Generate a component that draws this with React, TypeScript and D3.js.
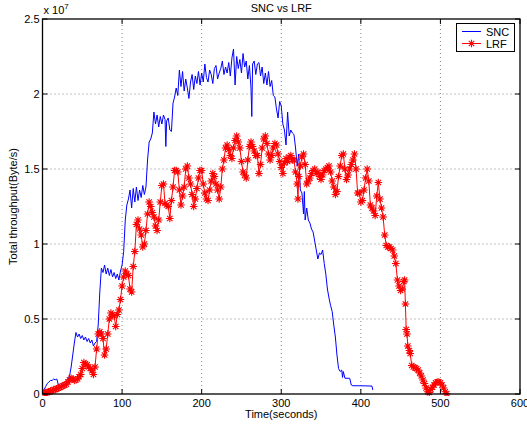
import React from "react";
import * as d3 from "d3";

// throughput values in units of 1e6 Byte/s
const sncTime = [0, 2, 4, 6, 8, 10, 12, 14, 16, 18, 20, 22, 24, 26, 28, 30, 32, 34, 36, 38, 40, 42, 44, 46, 48, 50, 52, 54, 56, 58, 60, 62, 64, 66, 68, 70, 72, 74, 76, 78, 80, 82, 84, 86, 88, 90, 92, 94, 96, 98, 100, 102, 104, 106, 108, 110, 112, 114, 116, 118, 120, 122, 124, 126, 128, 130, 132, 134, 136, 138, 140, 142, 144, 146, 148, 150, 152, 154, 155, 156, 158, 160, 162, 164, 166, 168, 170, 172, 174, 176, 178, 180, 182, 184, 186, 188, 190, 192, 194, 196, 198, 200, 202, 204, 206, 208, 210, 212, 214, 216, 218, 220, 222, 224, 226, 228, 230, 232, 234, 236, 238, 240, 242, 244, 246, 248, 250, 252, 254, 256, 258, 260, 262, 263, 264, 266, 268, 270, 272, 274, 276, 278, 280, 282, 284, 286, 288, 290, 292, 294, 296, 298, 300, 302, 304, 306, 308, 310, 312, 314, 316, 318, 320, 322, 324, 326, 328, 329, 330, 332, 334, 336, 338, 340, 342, 344, 346, 348, 350, 352, 354, 356, 358, 360, 362, 364, 366, 368, 370, 372, 374, 376, 377, 378, 380, 384, 386, 388, 390, 400, 414, 415];
const sncValue = [0.1, 0.3, 0.5, 0.7, 0.8, 0.9, 0.9, 1.0, 0.95, 1.0, 0.6, 0.5, 0.6, 0.7, 0.8, 0.9, 1.0, 1.2, 1.8, 2.6, 3.4, 4.1, 3.8, 4.0, 3.7, 3.9, 3.6, 3.8, 3.5, 3.7, 3.4, 3.6, 3.2, 3.4, 3.5, 4.6, 6.8, 8.4, 8.1, 8.6, 8.0, 8.4, 7.9, 8.3, 7.8, 8.1, 7.7, 8.0, 7.6, 8.2, 8.6, 9.5, 11.6, 12.6, 13.0, 13.6, 12.4, 13.7, 12.8, 13.8, 12.9, 13.6, 13.1, 13.9, 13.3, 13.8, 15.6, 16.8, 17.0, 17.4, 18.8, 18.0, 18.6, 17.8, 18.5, 18.0, 18.6, 18.3, 16.5, 18.2, 18.4, 17.6, 17.5, 19.4, 19.8, 20.4, 19.9, 21.6, 20.5, 21.5, 20.2, 21.0, 20.4, 19.7, 20.8, 21.3, 20.3, 21.2, 20.7, 21.5, 20.6, 21.4, 20.8, 22.0, 21.1, 20.8, 21.6, 21.3, 20.7, 21.7, 21.9, 21.0, 21.4, 21.7, 22.2, 21.3, 21.8, 21.4, 22.1, 21.2, 22.4, 23.0, 20.6, 22.5, 21.7, 22.3, 21.4, 22.7, 21.8, 22.2, 21.0, 21.9, 20.4, 18.5, 22.0, 22.2, 21.3, 22.0, 22.1, 21.2, 21.8, 20.7, 21.4, 20.6, 21.5, 20.5, 20.9, 19.9, 19.8, 19.0, 18.4, 19.5, 19.2, 18.0, 17.6, 16.6, 18.8, 17.2, 17.6, 17.4, 17.3, 16.4, 15.2, 16.0, 13.6, 13.4, 12.0, 13.5, 11.6, 12.4, 11.6, 11.4, 11.0, 10.8, 10.2, 9.6, 9.0, 9.4, 9.3, 9.6, 8.7, 8.0, 7.0, 6.4, 5.9, 5.5, 4.6, 3.8, 2.6, 1.7, 1.5, 1.6, 1.1, 1.5, 1.05, 1.05, 1.05, 0.6, 0.55, 0.55, 0.53, 0.27];

const lrfTime = [0, 2, 4, 6, 8, 10, 12, 14, 16, 18, 20, 22, 24, 26, 28, 30, 32, 34, 36, 38, 40, 42, 44, 46, 48, 50, 52, 54, 56, 58, 60, 62, 64, 66, 68, 70, 72, 74, 76, 78, 80, 82, 84, 86, 88, 90, 92, 94, 96, 98, 100, 102, 104, 106, 108, 110, 112, 114, 116, 118, 120, 122, 124, 126, 128, 130, 132, 134, 136, 138, 140, 142, 144, 146, 148, 150, 152, 154, 156, 158, 160, 162, 164, 166, 168, 170, 172, 174, 176, 178, 180, 182, 184, 186, 188, 190, 192, 194, 196, 198, 200, 202, 204, 206, 208, 210, 212, 214, 216, 218, 220, 222, 224, 226, 228, 230, 232, 234, 236, 238, 240, 242, 244, 246, 248, 250, 252, 254, 256, 258, 260, 262, 264, 266, 268, 270, 272, 274, 276, 278, 280, 282, 284, 286, 288, 290, 292, 294, 296, 298, 300, 302, 304, 306, 308, 310, 312, 314, 316, 318, 320, 321, 322, 324, 326, 328, 330, 332, 334, 336, 338, 340, 342, 344, 346, 348, 350, 352, 354, 356, 358, 360, 362, 364, 366, 368, 370, 372, 374, 376, 378, 380, 382, 384, 386, 388, 390, 392, 394, 396, 398, 400, 402, 404, 406, 408, 410, 412, 414, 416, 418, 420, 422, 424, 426, 428, 430, 432, 434, 436, 438, 440, 442, 444, 446, 448, 450, 452, 454, 455, 456, 457, 458, 459, 461, 462, 464, 466, 468, 470, 472, 474, 476, 478, 480, 482, 484, 486, 488, 490, 492, 494, 496, 498, 500, 502, 504, 506, 508];
const lrfValue = [0.05, 0.05, 0.1, 0.1, 0.15, 0.2, 0.2, 0.3, 0.3, 0.35, 0.4, 0.45, 0.5, 0.55, 0.6, 0.65, 0.8, 0.95, 1.05, 1.0, 0.9, 0.95, 1.0, 1.15, 1.3, 1.7, 2.1, 2.0, 1.95, 1.8, 1.7, 1.55, 1.3, 1.8, 3.0, 4.0, 4.15, 4.0, 3.7, 2.6, 3.0, 4.0, 5.0, 5.4, 5.3, 5.2, 4.5, 5.3, 5.6, 6.3, 7.2, 7.8, 8.2, 8.0, 7.9, 7.0, 6.8, 8.5, 9.5, 11.3, 11.6, 11.0, 10.6, 9.8, 10.0, 10.9, 12.0, 12.8, 12.5, 12.1, 11.8, 11.2, 10.9, 11.6, 12.8, 13.9, 14.0, 12.7, 12.6, 12.5, 11.7, 12.9, 13.8, 14.9, 14.9, 14.8, 13.6, 12.6, 13.2, 13.8, 15.0, 15.2, 14.4, 14.0, 13.3, 12.5, 13.0, 13.7, 14.4, 14.9, 14.9, 14.0, 13.4, 13.0, 12.9, 13.6, 14.2, 14.7, 14.5, 14.0, 13.6, 13.0, 13.8, 15.0, 15.6, 16.4, 16.6, 16.3, 15.9, 15.7, 16.4, 16.9, 17.2, 16.8, 16.4, 15.5, 14.8, 14.6, 14.4, 15.6, 16.5, 16.8, 16.5, 16.2, 15.9, 15.9, 14.7, 15.3, 16.4, 17.0, 17.2, 16.7, 16.0, 15.6, 15.9, 16.4, 16.7, 16.6, 16.0, 15.5, 15.1, 14.7, 15.4, 15.7, 15.5, 15.8, 15.9, 15.6, 15.6, 14.8, 14.0, 13.0, 14.5, 15.2, 15.8, 16.0, 15.3, 14.0, 14.2, 14.4, 14.7, 14.9, 15.0, 14.7, 14.8, 14.5, 14.3, 14.6, 14.9, 15.0, 15.1, 15.2, 14.8, 14.2, 13.8, 13.3, 13.5, 14.5, 15.2, 15.9, 16.0, 15.0, 14.3, 14.6, 15.0, 15.3, 15.6, 16.0, 15.0, 13.4, 13.4, 12.8, 12.9, 13.6, 14.4, 15.0, 14.2, 12.6, 12.4, 12.2, 11.9, 13.2, 14.1, 13.0, 12.4, 11.8, 10.6, 9.9, 9.8, 9.8, 9.7, 9.6, 9.2, 8.7, 7.6, 7.2, 6.9, 7.0, 7.5, 7.6, 6.0, 4.3, 4.0, 3.2, 2.9, 2.7, 1.9, 1.8, 1.75, 1.7, 1.6, 1.4, 1.2, 0.93, 0.7, 0.4, 0.15, 0.1, 0.3, 0.45, 0.6, 0.75, 0.8, 0.8, 0.75, 0.6, 0.4, 0.15, 0.02];

const xTicks = [0, 100, 200, 300, 400, 500, 600];
const yTicks = [0, 5, 10, 15, 20, 25];
const yTickLabels = ["0", "0.5", "1", "1.5", "2", "2.5"];
const seriesNames = ["SNC", "LRF"];

const W = 527, H = 426;
const font = "'Liberation Sans', Arial, Helvetica, sans-serif";

// matlab style '*' marker
function star(cx: number, cy: number, r: number) {
  const d = r * 0.72;
  return `M${cx - r},${cy}H${cx + r}M${cx},${cy - r}V${cy + r}` +
    `M${cx - d},${cy - d}L${cx + d},${cy + d}M${cx - d},${cy + d}L${cx + d},${cy - d}`;
}

export default function App() {
  const x = d3.scaleLinear().domain([0, 600]).range([42.5, 520]);
  const y = d3.scaleLinear().domain([0, 25]).range([394, 19]);
  const [x0, x1] = x.range();
  const [y0, y1] = y.range();

  const snc = sncTime.map((t, i) => [t, sncValue[i]] as [number, number]);
  const lrf = lrfTime.map((t, i) => [t, lrfValue[i]] as [number, number]);
  const line = d3.line<[number, number]>().x(d => x(d[0])).y(d => y(d[1]));
  const markers = lrf.map(d => star(x(d[0]), y(d[1]), 3.8)).join("");

  return (
    <svg width={W} height={H} style={{ position: "absolute", left: 0, top: 0, background: "#fff" }}
      fontFamily={font}>
      <rect x={0} y={0} width={W} height={H} fill="#fff" />
      <g stroke="#666" strokeWidth={0.8} strokeDasharray="1,3">
        {xTicks.slice(1, -1).map(t => (
          <line key={"gx" + t} x1={x(t)} x2={x(t)} y1={y0} y2={y1} />
        ))}
        {yTicks.slice(1, -1).map(t => (
          <line key={"gy" + t} x1={x0} x2={x1} y1={y(t)} y2={y(t)} />
        ))}
      </g>
      <defs>
        <clipPath id="plot">
          <rect x={x0} y={y1} width={x1 - x0} height={y0 - y1 + 2} />
        </clipPath>
      </defs>
      <g clipPath="url(#plot)">
        <path d={line(snc) ?? ""} fill="none" stroke="#0000ff" strokeWidth={1} />
        <path d={line(lrf) ?? ""} fill="none" stroke="#ff0000" strokeWidth={1} />
        <path d={markers} fill="none" stroke="#ff0000" strokeWidth={1.1} />
      </g>
      <rect x={x0} y={y1} width={x1 - x0} height={y0 - y1} fill="none" stroke="#000" strokeWidth={1.3} />
      <g stroke="#000" strokeWidth={1}>
        {xTicks.map(t => (
          <g key={"tx" + t}>
            <line x1={x(t)} x2={x(t)} y1={y0} y2={y0 - 5} />
            <line x1={x(t)} x2={x(t)} y1={y1} y2={y1 + 5} />
          </g>
        ))}
        {yTicks.map(t => (
          <g key={"ty" + t}>
            <line x1={x0} x2={x0 + 5} y1={y(t)} y2={y(t)} />
            <line x1={x1} x2={x1 - 5} y1={y(t)} y2={y(t)} />
          </g>
        ))}
      </g>
      <g fontSize={11} fill="#000">
        {xTicks.map(t => (
          <text key={"lx" + t} x={x(t)} y={y0 + 13} textAnchor="middle">{t}</text>
        ))}
        {yTicks.map((t, i) => (
          <text key={"ly" + t} x={x0 - 3} y={y(t) + 4} textAnchor="end">{yTickLabels[i]}</text>
        ))}
        <text x={x0 + 1} y={14}>x 10<tspan dy={-5} fontSize={8}>7</tspan></text>
        <text x={(x0 + x1) / 2} y={12} textAnchor="middle">SNC vs LRF</text>
        <text x={(x0 + x1) / 2} y={418} textAnchor="middle">Time(seconds)</text>
        <text transform={`translate(17,${(y0 + y1) / 2}) rotate(-90)`} textAnchor="middle">Total throughput(Byte/s)</text>
      </g>
      <g>
        <rect x={456.5} y={23.5} width={58} height={28} fill="#fff" stroke="#000" strokeWidth={1} />
        <line x1={462} x2={481} y1={31.5} y2={31.5} stroke="#0000ff" strokeWidth={1} />
        <line x1={462} x2={481} y1={43.5} y2={43.5} stroke="#ff0000" strokeWidth={1} />
        <path d={star(471.5, 43.5, 3.8)} stroke="#ff0000" fill="none" strokeWidth={1.1} />
        <text x={486} y={35.5} fontSize={11}>{seriesNames[0]}</text>
        <text x={486} y={47.5} fontSize={11}>{seriesNames[1]}</text>
      </g>
    </svg>
  );
}
